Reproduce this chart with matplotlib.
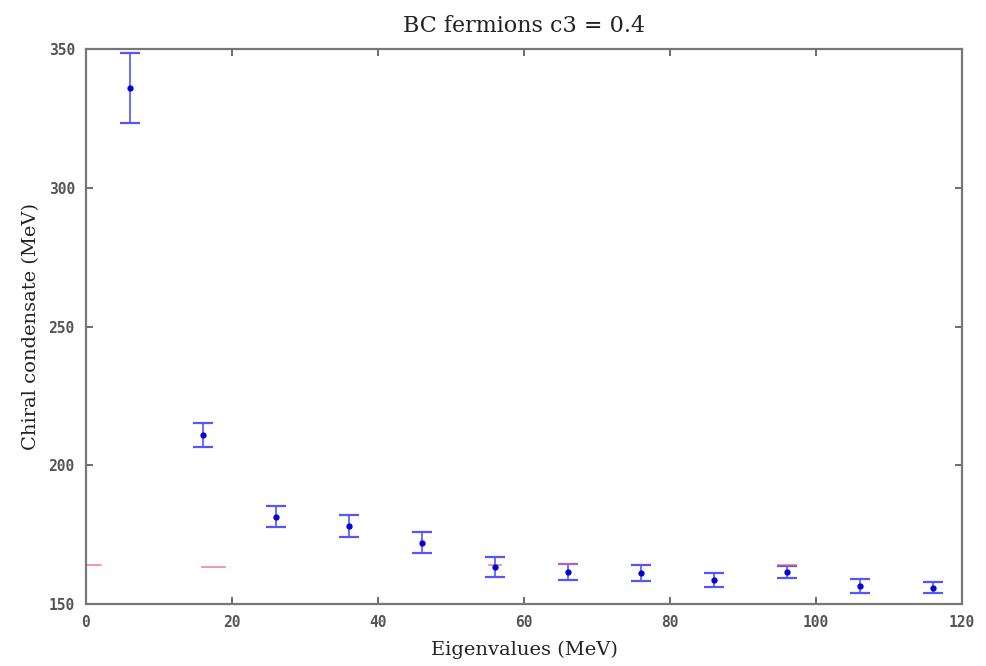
import numpy as np
import matplotlib
matplotlib.use("Agg")
import matplotlib.pyplot as plt

# data
eigen = [6, 16, 26, 36, 46, 56, 66, 76, 86, 96, 106, 116]
cond = [336.0, 210.9, 181.4, 178.1, 172.0, 163.3, 161.5, 161.2, 158.6, 161.5, 156.6, 155.8]
err = [12.5, 4.2, 3.8, 3.8, 3.8, 3.6, 2.9, 2.9, 2.4, 2.3, 2.5, 2.0]

# faint red marks (second series, mostly hidden)
red_x = [1, 17.5, 56, 66, 96]
red_y = [164.2, 163.4, 164.0, 164.4, 164.0]
red_w = [1, 1.6, 0.8, 1.2, 1.2]

fig = plt.figure(figsize=(9.87, 6.66), dpi=100)
ax = fig.add_axes([0.0871, 0.0931, 0.8876, 0.8333])

ax.errorbar(eigen, cond, yerr=err, fmt='o', color='#0000dd', ms=3.5,
            ecolor='#5555ff', elinewidth=1.2, capsize=7, capthick=1.6)

for x, y, w in zip(red_x, red_y, red_w):
    ax.plot([x - w, x + w], [y, y], color='#ee6688', lw=1.2, alpha=0.8)

ax.set_xlim(0, 120)
ax.set_ylim(150, 350)
ax.set_xticks(np.arange(0, 121, 20))
ax.set_yticks(np.arange(150, 351, 50))

for s in ax.spines.values():
    s.set_color('#777777')
    s.set_linewidth(1.6)

ax.tick_params(direction='in', top=True, right=True, length=5, width=1.2,
               color='#555555', labelcolor='#555555', labelsize=10.5, pad=8)
for lab in ax.get_xticklabels() + ax.get_yticklabels():
    lab.set_family('DejaVu Sans Mono')
    lab.set_fontweight('bold')

ax.set_title('BC fermions c3 = 0.4', family='DejaVu Serif', fontsize=16, pad=12, color='#222222')
ax.set_xlabel('Eigenvalues (MeV)', family='DejaVu Serif', fontsize=14, labelpad=8, color='#222222')
ax.set_ylabel('Chiral condensate (MeV)', family='DejaVu Serif', fontsize=14, labelpad=6, color='#222222')

fig.savefig('out.png', dpi=100)
